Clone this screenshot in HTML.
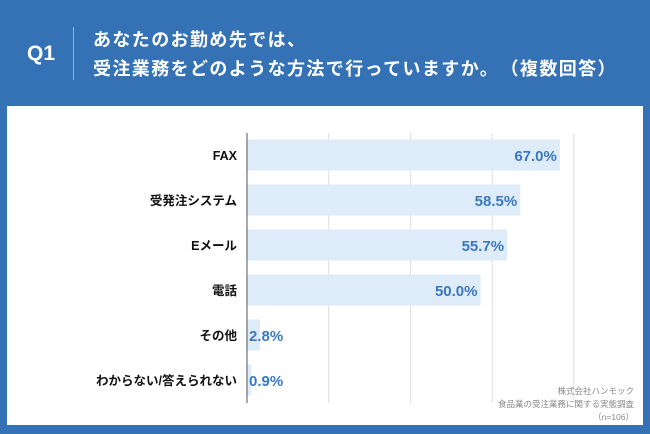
<!DOCTYPE html>
<html><head><meta charset="utf-8">
<style>
body{margin:0;width:650px;height:434px;background:#3572b5;overflow:hidden;font-family:"Liberation Sans","Noto Sans CJK JP",sans-serif;position:relative}
.t{position:absolute;color:#fff;font-weight:bold}
</style></head><body>
<div class="t" style="left:27px;top:42px;font-size:21px">Q1</div>
<div style="position:absolute;left:73px;top:27px;width:1px;height:53px;background:#8fb0d8"></div>
<div class="t" style="left:93px;top:26px;font-size:18px;line-height:29px;letter-spacing:1.4px;white-space:nowrap">あなたのお勤め先では、<br>受注業務をどのような方法で行っていますか。　（複数回答）</div>
<div style="position:absolute;left:7px;top:106px;width:636px;height:319px;background:#fff"></div>
<svg id="chart" width="650" height="434" style="position:absolute;left:0;top:0"></svg>
<div style="position:absolute;right:16px;top:385px;text-align:right;color:#888;font-size:8.5px;line-height:13px">株式会社ハンモック<br>食品業の受注業務に関する実態調査<br>（n=106）</div>
<script>
const categories=["FAX","受発注システム","Eメール","電話","その他","わからない/答えられない"];
const values=[67.0,58.5,55.7,50.0,2.8,0.9];
const gridTicks=[0,17.5,35,52.5,70];
const NS="http://www.w3.org/2000/svg";
const svg=document.getElementById('chart');
const x0=247,k=4.67;
const x=v=>x0+v*k;
const y=i=>155+i*45;
function mk(t,a){const e=document.createElementNS(NS,t);for(const n in a)e.setAttribute(n,a[n]);svg.appendChild(e);return e;}
gridTicks.forEach((g,i)=>{if(i===0)return;const l=mk('line',{x1:x(g),x2:x(g),y1:133,y2:403,stroke:'#dcdcdc','stroke-width':1});

});
categories.forEach((c,i)=>{
const v=values[i];
const r=mk('rect',{x:x0,y:y(i)-15.5,width:x(v)-x0,height:31,fill:'#deebf8'});


const lab=mk('text',{x:237,y:y(i)+5,'text-anchor':'end','font-size':12.5,'font-weight':'bold',fill:'#111'});
lab.textContent=c;


const inside=(x(v)-x0)>60;
const vl=mk('text',{x:inside?x(v)-3:x0+2,y:y(i)+6,'text-anchor':inside?'end':'start','font-size':15,'font-weight':'bold',fill:'#3a78c0'});
vl.textContent=v.toFixed(1)+'%';


});
const ax=mk('line',{x1:x0,x2:x0,y1:133,y2:403,stroke:'#555','stroke-width':1});


</script>
</body></html>
